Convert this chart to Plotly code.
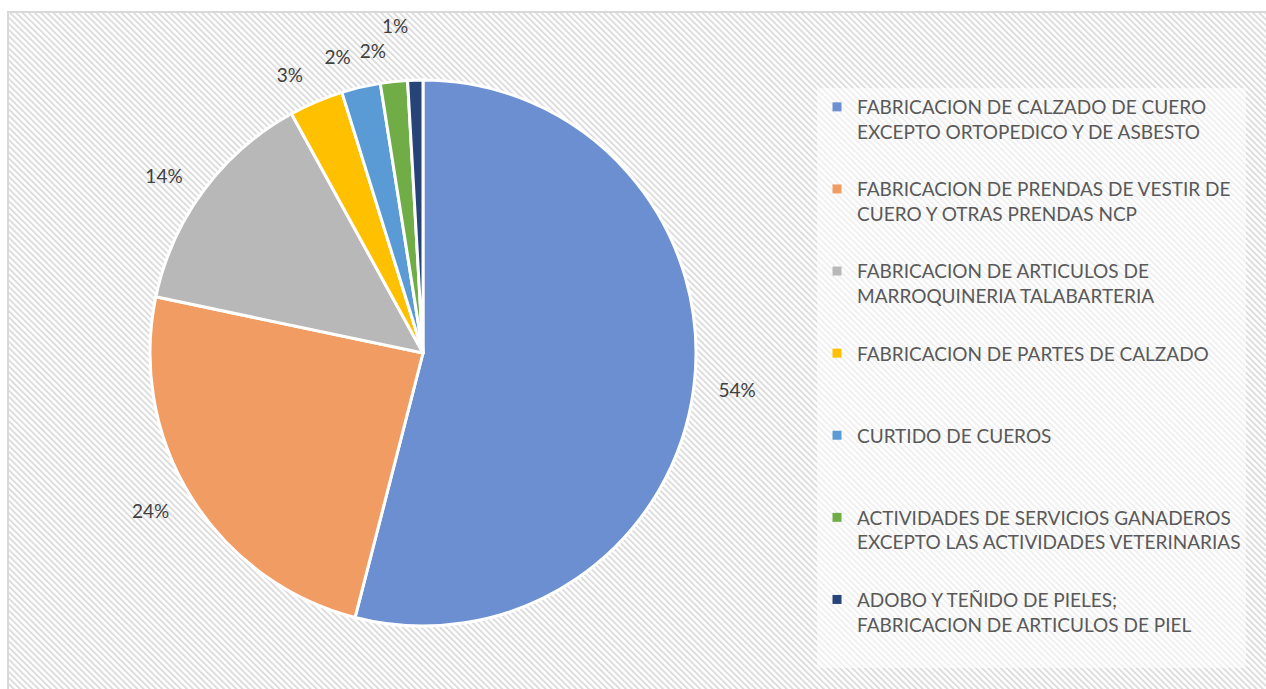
import base64
import plotly.graph_objects as go

categories = [
    "FABRICACION DE CALZADO DE CUERO<br>EXCEPTO ORTOPEDICO Y DE ASBESTO",
    "FABRICACION DE PRENDAS DE VESTIR DE<br>CUERO Y OTRAS PRENDAS NCP",
    "FABRICACION DE ARTICULOS DE<br>MARROQUINERIA TALABARTERIA",
    "FABRICACION DE PARTES DE CALZADO",
    "CURTIDO DE CUEROS",
    "ACTIVIDADES DE SERVICIOS GANADEROS<br>EXCEPTO LAS ACTIVIDADES VETERINARIAS",
    "ADOBO Y TEÑIDO DE PIELES;<br>FABRICACION DE ARTICULOS DE PIEL",
]
shares = [54.0, 24.3, 13.7, 3.2, 2.3, 1.6, 0.9]
colors = ["#6B8FD1", "#F09C63", "#B8B8B8", "#FFC000", "#5B9BD5", "#70AD47", "#264478"]

W, H = 1266, 689
cx, cy, r = 423, 353, 273
FONT = "Lato"


def pad_label(s, lines=3):
    n = s.count("<br>") + 1
    return s + "<br> " * (lines - n)


def domain_for(radius):
    return dict(
        x=[(cx - radius) / W, (cx + radius) / W],
        y=[(H - cy - radius) / H, (H - cy + radius) / H],
    )


fig = go.Figure()

# main pie (no text)
fig.add_trace(
    go.Pie(
        labels=categories,
        values=shares,
        sort=False,
        direction="clockwise",
        rotation=0,
        marker=dict(colors=colors, line=dict(color="white", width=3)),
        textinfo="none",
        domain=domain_for(r),
        showlegend=False,
        hovertemplate="%{label}<br>%{percent}<extra></extra>",
    )
)

# transparent label rings (separate traces so small labels are not stacked)
label_sets = [
    ([0, 1, 2, 3], 292),
    ([4], 293),
    ([5], 293),
    ([6], 316),
]
for idx, radius in label_sets:
    fig.add_trace(
        go.Pie(
            labels=categories,
            values=shares,
            sort=False,
            direction="clockwise",
            rotation=0,
            marker=dict(colors=["rgba(0,0,0,0)"] * len(shares), line=dict(width=0)),
            textposition=["outside" if i in idx else "none" for i in range(len(shares))],
            texttemplate="%{percent:.0%}",
            textfont=dict(family=FONT, size=19, color="#404040"),
            domain=domain_for(radius),
            showlegend=False,
            hoverinfo="skip",
        )
    )

# legend entries
for i, (name, col) in enumerate(zip(categories, colors)):
    fig.add_trace(
        go.Scatter(
            x=[None],
            y=[None],
            mode="markers",
            name=pad_label(name),
            legendgroup=f"g{i}",
            marker=dict(symbol="square", size=9, color=col, line=dict(width=0)),
            showlegend=True,
        )
    )

svg = (
    f"<svg xmlns='http://www.w3.org/2000/svg' width='{W}' height='{H}'>"
    "<defs><pattern id='p' width='4.4' height='4.4' patternUnits='userSpaceOnUse' "
    "patternTransform='rotate(-45)'>"
    "<rect width='4.4' height='4.4' fill='#ffffff'/>"
    "<rect width='1.9' height='4.4' fill='#dcdcdc'/>"
    "</pattern></defs>"
    "<rect width='100%' height='100%' fill='url(#p)'/></svg>"
)
src = "data:image/svg+xml;base64," + base64.b64encode(svg.encode()).decode()

fig.update_layout(
    width=W,
    height=H,
    margin=dict(l=0, r=0, t=0, b=0),
    paper_bgcolor="white",
    plot_bgcolor="rgba(0,0,0,0)",
    xaxis=dict(visible=False),
    yaxis=dict(visible=False),
    images=[
        dict(
            source=src,
            xref="paper",
            yref="paper",
            x=8 / W,
            y=1 - 12 / H,
            sizex=1 - 8 / W,
            sizey=1 - 12 / H,
            sizing="stretch",
            xanchor="left",
            yanchor="top",
            layer="below",
        )
    ],
    shapes=[
        dict(
            type="rect",
            xref="paper",
            yref="paper",
            x0=8 / W,
            x1=1 + 2 / W,
            y0=-2 / H,
            y1=1 - 12 / H,
            line=dict(color="#D9D9D9", width=2),
            fillcolor="rgba(0,0,0,0)",
            layer="below",
        )
    ],
    showlegend=True,
    legend=dict(
        x=817 / W,
        y=1 - 88 / H,
        xanchor="left",
        yanchor="top",
        bgcolor="rgba(255,255,255,0.55)",
        font=dict(family=FONT, size=19, color="#595959"),
        valign="top",
        itemwidth=30,
        traceorder="grouped",
        tracegroupgap=5,
    ),
)

fig.write_html(
    "out.html",
    config={"displayModeBar": False},
    post_script="document.body.style.margin='0';",
)
